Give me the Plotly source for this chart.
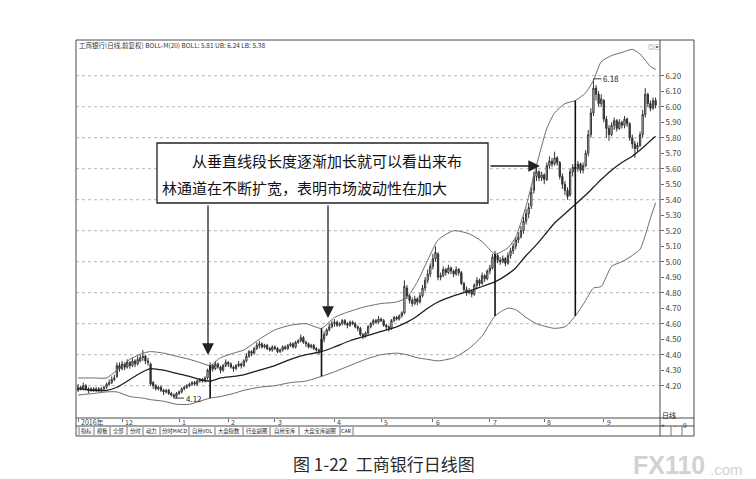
import plotly.graph_objects as go

# 工商银行 日线 (2016-11 ~ 2017-09)
month_labels = ["2016年", "12", "1", "2", "3", "4", "5", "6", "7", "8", "9"]
month_starts = [0, 17, 39, 58, 76, 99, 117, 137, 159, 180, 203]

opens = [
    4.17, 4.19, 4.18, 4.20, 4.18, 4.17, 4.18, 4.17, 4.18, 4.17,
    4.18, 4.19, 4.21, 4.22, 4.24,
    4.26, 4.33, 4.31, 4.34, 4.32, 4.35, 4.33, 4.36, 4.34, 4.36,
    4.38, 4.39, 4.36,
    4.34, 4.22, 4.20, 4.18, 4.19, 4.17, 4.16, 4.17, 4.15, 4.14, 4.13,
    4.15, 4.16, 4.18, 4.19, 4.20, 4.21, 4.22, 4.21, 4.23, 4.24, 4.23,
    4.25, 4.30, 4.33, 4.31, 4.34, 4.32, 4.30, 4.33, 4.35, 4.34, 4.32, 4.31, 4.33, 4.34,
    4.33, 4.36, 4.39, 4.42, 4.41, 4.44, 4.46,
    4.47, 4.45, 4.46, 4.44, 4.43, 4.45, 4.44, 4.42, 4.43, 4.45, 4.44, 4.46, 4.47, 4.45, 4.48, 4.49,
    4.51, 4.48, 4.47, 4.45, 4.46, 4.44, 4.43,
    4.42, 4.50, 4.53, 4.56, 4.58,
    4.60, 4.61, 4.59, 4.60, 4.62, 4.60, 4.59, 4.61, 4.60, 4.58,
    4.57, 4.53, 4.52,
    4.54, 4.58, 4.60, 4.62, 4.61, 4.63,
    4.62, 4.59, 4.58,
    4.57, 4.62, 4.64, 4.63, 4.65,
    4.67,
    4.83, 4.78, 4.75, 4.73, 4.76, 4.74,
    4.78, 4.83, 4.88, 4.92, 4.97, 5.02,
    5.05, 4.90, 4.91, 4.95, 4.93, 4.96, 4.94, 4.92, 4.95,
    4.93, 4.86, 4.82, 4.80, 4.81,
    4.79, 4.85, 4.88, 4.86, 4.91, 4.89, 4.94,
    4.96, 5.03, 5.04, 5.01, 5.00, 5.02,
    4.99, 5.04, 5.07, 5.10, 5.14, 5.16,
    5.20, 5.26, 5.31, 5.36,
    5.46, 5.55, 5.58, 5.54, 5.56,
    5.53, 5.62, 5.65, 5.63, 5.67,
    5.64, 5.55, 5.50, 5.46,
    5.43, 5.58, 5.61, 5.60, 5.63, 5.59,
    5.62, 5.70, 5.82, 5.96,
    6.12, 6.08, 6.02,
    6.04, 5.92, 5.86,
    5.82, 5.88, 5.91, 5.86, 5.90, 5.88, 5.92,
    5.89, 5.80, 5.76, 5.73,
    5.75, 5.82, 5.95,
    6.08, 6.02, 5.99, 6.04,
]
highs = [
    4.21, 4.20, 4.22, 4.21, 4.19, 4.19, 4.19, 4.19, 4.19, 4.19,
    4.20, 4.22, 4.24, 4.26, 4.27,
    4.35, 4.35, 4.36, 4.35, 4.37, 4.36, 4.38, 4.37, 4.39, 4.40,
    4.43, 4.40, 4.38,
    4.35, 4.23, 4.21, 4.20, 4.20, 4.18, 4.18, 4.18, 4.16, 4.15, 4.16,
    4.17, 4.19, 4.20, 4.21, 4.22, 4.23, 4.23, 4.24, 4.25, 4.25, 4.26,
    4.31, 4.35, 4.34, 4.36, 4.35, 4.33, 4.34, 4.37, 4.36, 4.35, 4.33, 4.34, 4.36, 4.35,
    4.37, 4.41, 4.43, 4.43, 4.45, 4.48, 4.49,
    4.48, 4.47, 4.47, 4.45, 4.46, 4.46, 4.45, 4.44, 4.46, 4.46, 4.47, 4.48, 4.48, 4.49, 4.50, 4.53,
    4.52, 4.49, 4.48, 4.47, 4.47, 4.45, 4.44,
    4.51, 4.55, 4.57, 4.60, 4.62,
    4.63, 4.62, 4.61, 4.63, 4.63, 4.61, 4.62, 4.62, 4.61, 4.59,
    4.58, 4.54, 4.55,
    4.59, 4.61, 4.63, 4.63, 4.65, 4.64,
    4.63, 4.60, 4.59,
    4.63, 4.65, 4.65, 4.66, 4.68,
    4.88,
    4.85, 4.79, 4.77, 4.78, 4.77, 4.80,
    4.85, 4.90, 4.95, 4.99, 5.05, 5.10,
    5.06, 4.93, 4.97, 4.96, 4.98, 4.97, 4.95, 4.97, 4.96,
    4.94, 4.87, 4.84, 4.83, 4.82,
    4.86, 4.90, 4.89, 4.93, 4.92, 4.95, 4.98,
    5.05, 5.07, 5.05, 5.03, 5.04, 5.03,
    5.06, 5.09, 5.12, 5.16, 5.19, 5.23,
    5.29, 5.34, 5.38, 5.48,
    5.58, 5.61, 5.59, 5.58, 5.57,
    5.64, 5.68, 5.67, 5.71, 5.68,
    5.65, 5.57, 5.52, 5.48,
    5.60, 5.63, 5.63, 5.65, 5.64, 5.64,
    5.72, 5.85, 5.99, 6.18,
    6.14, 6.10, 6.08,
    6.05, 5.94, 5.88,
    5.90, 5.93, 5.92, 5.92, 5.91, 5.94, 5.93,
    5.90, 5.82, 5.78, 5.77,
    5.84, 5.98, 6.12,
    6.09, 6.04, 6.06, 6.06,
]
lows = [
    4.16, 4.17, 4.17, 4.17, 4.15, 4.16, 4.16, 4.16, 4.16, 4.16,
    4.17, 4.18, 4.20, 4.21, 4.23,
    4.25, 4.29, 4.30, 4.30, 4.31, 4.31, 4.32, 4.32, 4.33, 4.35,
    4.36, 4.34, 4.33,
    4.20, 4.18, 4.17, 4.17, 4.16, 4.14, 4.15, 4.14, 4.13, 4.12, 4.12,
    4.14, 4.15, 4.17, 4.18, 4.19, 4.20, 4.20, 4.20, 4.22, 4.22, 4.22,
    4.24, 4.28, 4.29, 4.30, 4.31, 4.28, 4.29, 4.32, 4.32, 4.31, 4.29, 4.30, 4.32, 4.31,
    4.32, 4.35, 4.38, 4.39, 4.40, 4.43, 4.44,
    4.44, 4.44, 4.43, 4.42, 4.42, 4.43, 4.41, 4.41, 4.42, 4.43, 4.43, 4.45, 4.44, 4.44, 4.47, 4.48,
    4.47, 4.45, 4.44, 4.44, 4.43, 4.42, 4.40,
    4.41, 4.48, 4.52, 4.55, 4.57,
    4.58, 4.58, 4.58, 4.59, 4.59, 4.57, 4.58, 4.59, 4.57, 4.55,
    4.52, 4.50, 4.51,
    4.53, 4.57, 4.59, 4.60, 4.60, 4.61,
    4.58, 4.56, 4.55,
    4.56, 4.61, 4.62, 4.62, 4.64,
    4.66,
    4.76, 4.73, 4.71, 4.72, 4.72, 4.73,
    4.77, 4.81, 4.86, 4.90, 4.95, 5.00,
    4.88, 4.88, 4.90, 4.91, 4.92, 4.92, 4.90, 4.91, 4.91,
    4.85, 4.80, 4.78, 4.79, 4.77,
    4.78, 4.83, 4.84, 4.85, 4.87, 4.88, 4.92,
    4.95, 5.00, 4.99, 4.98, 4.99, 4.97,
    4.98, 5.02, 5.05, 5.08, 5.12, 5.15,
    5.18, 5.24, 5.28, 5.34,
    5.44, 5.52, 5.52, 5.52, 5.50,
    5.52, 5.60, 5.61, 5.62, 5.62,
    5.53, 5.47, 5.43, 5.40,
    5.42, 5.55, 5.57, 5.58, 5.57, 5.57,
    5.61, 5.68, 5.80, 5.94,
    6.04, 6.00, 6.00,
    5.90, 5.80, 5.78,
    5.81, 5.85, 5.84, 5.85, 5.86, 5.86, 5.87,
    5.78, 5.73, 5.67, 5.71,
    5.74, 5.80, 5.93,
    6.00, 5.97, 5.98, 5.99,
]
closes = [
    4.19, 4.18, 4.20, 4.18, 4.17, 4.18, 4.17, 4.18, 4.17, 4.18,
    4.19, 4.21, 4.22, 4.24, 4.25,
    4.33, 4.31, 4.34, 4.32, 4.35, 4.33, 4.36, 4.34, 4.37, 4.38,
    4.39, 4.36, 4.35,
    4.21, 4.20, 4.18, 4.19, 4.17, 4.16, 4.17, 4.15, 4.14, 4.13, 4.15,
    4.16, 4.18, 4.19, 4.20, 4.21, 4.22, 4.21, 4.23, 4.24, 4.23, 4.25,
    4.30, 4.33, 4.31, 4.34, 4.32, 4.30, 4.33, 4.35, 4.34, 4.32, 4.31, 4.33, 4.34, 4.33,
    4.36, 4.39, 4.42, 4.41, 4.44, 4.46, 4.47,
    4.45, 4.46, 4.44, 4.43, 4.45, 4.44, 4.42, 4.43, 4.45, 4.44, 4.46, 4.47, 4.45, 4.48, 4.49, 4.51,
    4.48, 4.47, 4.45, 4.46, 4.44, 4.43, 4.42,
    4.50, 4.53, 4.56, 4.58, 4.60,
    4.61, 4.59, 4.60, 4.62, 4.60, 4.59, 4.61, 4.60, 4.58, 4.57,
    4.53, 4.52, 4.54,
    4.58, 4.60, 4.62, 4.61, 4.63, 4.62,
    4.59, 4.58, 4.57,
    4.62, 4.64, 4.63, 4.65, 4.67,
    4.84,
    4.78, 4.75, 4.73, 4.76, 4.74, 4.78,
    4.83, 4.88, 4.92, 4.97, 5.02, 5.06,
    4.90, 4.91, 4.95, 4.93, 4.96, 4.94, 4.92, 4.95, 4.93,
    4.86, 4.82, 4.80, 4.81, 4.79,
    4.85, 4.88, 4.86, 4.91, 4.89, 4.94, 4.96,
    5.03, 5.04, 5.01, 5.00, 5.02, 4.99,
    5.04, 5.07, 5.10, 5.14, 5.16, 5.20,
    5.26, 5.31, 5.35, 5.45,
    5.55, 5.58, 5.54, 5.56, 5.53,
    5.62, 5.65, 5.63, 5.67, 5.64,
    5.55, 5.50, 5.46, 5.42,
    5.58, 5.61, 5.60, 5.63, 5.59, 5.62,
    5.70, 5.82, 5.96, 6.12,
    6.08, 6.02, 6.05,
    5.92, 5.86, 5.82,
    5.88, 5.91, 5.86, 5.90, 5.88, 5.92, 5.89,
    5.80, 5.76, 5.73, 5.75,
    5.82, 5.95, 6.08,
    6.02, 5.99, 6.04, 6.01,
]
assert len(opens) == len(highs) == len(lows) == len(closes)
days = list(range(len(closes)))

# BOLL(20) band read at selected days
band_days = [0, 6, 11, 15, 20, 25, 28, 33, 38, 43, 47, 51, 55, 60, 64, 70, 76, 82, 88, 94,
             99, 105, 111, 117, 123, 127, 131, 135, 139, 145, 151, 156, 161, 166, 169, 173,
             177, 181, 184, 188, 192, 196, 199, 202, 206, 210, 214, 217, 219, 221, 223]
boll_upper = [4.25, 4.25, 4.25, 4.30, 4.37, 4.41, 4.42, 4.41, 4.39, 4.37, 4.35, 4.33, 4.38,
              4.41, 4.43, 4.50, 4.56, 4.59, 4.60, 4.57, 4.64, 4.68, 4.71, 4.73, 4.74, 4.77,
              4.87, 5.01, 5.14, 5.20, 5.18, 5.13, 5.05, 5.09, 5.16, 5.36, 5.62, 5.86, 5.96,
              6.02, 6.04, 6.09, 6.17, 6.29, 6.33, 6.35, 6.37, 6.34, 6.30, 6.26, 6.24]
boll_mid = [4.18, 4.17, 4.17, 4.19, 4.24, 4.29, 4.31, 4.30, 4.28, 4.26, 4.24, 4.23, 4.25,
            4.26, 4.27, 4.30, 4.33, 4.37, 4.40, 4.42, 4.45, 4.49, 4.52, 4.55, 4.58, 4.61,
            4.65, 4.70, 4.74, 4.78, 4.81, 4.84, 4.87, 4.92, 4.96, 5.04, 5.11, 5.19, 5.25,
            5.31, 5.37, 5.43, 5.48, 5.53, 5.59, 5.64, 5.68, 5.72, 5.75, 5.78, 5.81]
boll_lower = [4.14, 4.15, 4.16, 4.16, 4.13, 4.12, 4.11, 4.10, 4.08, 4.08, 4.10, 4.12, 4.13,
              4.15, 4.17, 4.19, 4.20, 4.22, 4.23, 4.26, 4.29, 4.33, 4.37, 4.40, 4.41, 4.40,
              4.38, 4.37, 4.36, 4.38, 4.44, 4.52, 4.65, 4.70, 4.69, 4.64, 4.60, 4.58, 4.57,
              4.58, 4.65, 4.75, 4.83, 4.84, 4.97, 5.00, 5.04, 5.08, 5.17, 5.28, 5.38]

# days where the channel width is marked with a vertical segment
width_mark_days = [51, 94, 161, 192]

price_ticks = [4.20, 4.30, 4.40, 4.50, 4.60, 4.70, 4.80, 4.90, 5.00, 5.10, 5.20,
               5.30, 5.40, 5.50, 5.60, 5.70, 5.80, 5.90, 6.00, 6.10, 6.20]
grid_levels = [4.20, 4.40, 4.60, 4.80, 5.00, 5.20, 5.40, 5.60, 5.80, 6.00, 6.20]

tab_labels = ["指标", "模板", "全部", "分时", "动力", "分时MACD", "自用VOL",
              "大盘指数", "行业副图", "自用宝库", "大盘宝库副图", "CAR"]
tab_edges = [71, 86, 102, 119, 135, 152, 181, 207, 235, 262, 291, 332, 345]

note_line1 = "　　从垂直线段长度逐渐加长就可以看出来布"
note_line2 = "林通道在不断扩宽，表明市场波动性在加大"
caption = "图 1-22  工商银行日线图"

FONT = "Noto Sans CJK SC"
W, H = 756, 479
L, R, T, B = 68, 104, 33, 69
PW, PH = W - L - R, H - T - B


def px(x):
    return (x - L) / PW


def py(y):
    return (H - B - y) / PH


fig = go.Figure()

fig.add_trace(go.Candlestick(
    x=days, open=opens, high=highs, low=lows, close=closes,
    increasing=dict(line=dict(color="#333333", width=1), fillcolor="#ffffff"),
    decreasing=dict(line=dict(color="#333333", width=1), fillcolor="#333333"),
    whiskerwidth=0, showlegend=False, hoverinfo="skip",
))

for vals, col, w in [(boll_upper, "#6a6a6a", 1), (boll_lower, "#6a6a6a", 1), (boll_mid, "#1e1e1e", 1.3)]:
    fig.add_trace(go.Scatter(
        x=band_days, y=vals, mode="lines",
        line=dict(color=col, width=w, shape="spline", smoothing=0.6),
        showlegend=False, hoverinfo="skip",
    ))

# dotted price grid
for g in grid_levels:
    fig.add_shape(type="line", xref="paper", yref="y", x0=0, x1=1, y0=g, y1=g,
                  line=dict(color="#b5b5b5", width=1, dash="dot"), layer="below")

# vertical channel-width segments
for d in width_mark_days:
    k = band_days.index(d)
    fig.add_shape(type="line", xref="x", yref="y", x0=d, x1=d,
                  y0=boll_lower[k], y1=boll_upper[k],
                  line=dict(color="#111111", width=1.6))

# frame of the software window
frame = dict(color="#4a4a4a", width=1)
fig.add_shape(type="rect", xref="paper", yref="paper", x0=0, x1=px(686), y0=py(428), y1=py(32), line=frame)
fig.add_shape(type="line", xref="paper", yref="paper", x0=1, x1=1, y0=py(428), y1=py(32), line=frame)
fig.add_shape(type="line", xref="paper", yref="paper", x0=0, x1=px(686), y0=0, y1=0, line=frame)
fig.add_shape(type="line", xref="paper", yref="paper", x0=0, x1=px(686), y0=py(418), y1=py(418), line=frame)
for e in tab_edges:
    fig.add_shape(type="line", xref="paper", yref="paper", x0=px(e), x1=px(e), y0=py(427), y1=py(419),
                  line=dict(color="#777777", width=1))
for e in [663, 674]:
    fig.add_shape(type="line", xref="paper", yref="paper", x0=px(e), x1=px(e), y0=py(428), y1=py(418),
                  line=dict(color="#777777", width=1))

# callout box
fig.add_shape(type="rect", xref="paper", yref="paper", x0=px(149), x1=px(480), y0=py(195), y1=py(135),
              line=dict(color="#222222", width=1.3), fillcolor="white")

ann = []
ann.append(dict(x=px(69), y=py(37), xref="paper", yref="paper", xanchor="left", yanchor="middle",
                text=f"工商银行(日线,前复权) BOLL-M(20) BOLL: {boll_mid[-1]:.2f} UB: {boll_upper[-1]:.2f} LB: {boll_lower[-1]:.2f}",
                showarrow=False, font=dict(size=6.5, color="#333333", family=FONT)))
ann.append(dict(x=px(646), y=py(38), xref="paper", yref="paper", xanchor="center", yanchor="middle",
                text="◎▣", showarrow=False, font=dict(size=6, color="#666666", family=FONT)))
ann.append(dict(x=px(152), y=py(152), xref="paper", yref="paper", xanchor="left", yanchor="middle",
                text=note_line1, showarrow=False, font=dict(size=15, color="#111111", family=FONT)))
ann.append(dict(x=px(152), y=py(179), xref="paper", yref="paper", xanchor="left", yanchor="middle",
                text=note_line2, showarrow=False, font=dict(size=15, color="#111111", family=FONT)))

arrow = dict(showarrow=True, arrowhead=2, arrowsize=1.8, arrowwidth=1.3, arrowcolor="#222222", text="",
             xref="paper", yref="paper")
ann.append(dict(arrow, x=px(200), y=py(347), ax=0, ay=-(347 - 196)))
ann.append(dict(arrow, x=px(320), y=py(310), ax=0, ay=-(310 - 196)))
ann.append(dict(arrow, x=px(532), y=py(158), ax=-(532 - 481), ay=0))

# extreme price markers
i_lo = lows.index(min(lows))
i_hi = highs.index(max(highs))
ann.append(dict(x=i_lo, y=lows[i_lo], xref="x", yref="y", text=f"{lows[i_lo]:.2f}", showarrow=True,
                arrowhead=0, arrowwidth=1, arrowcolor="#333333", ax=10, ay=0, xanchor="left",
                font=dict(size=8, color="#222222", family=FONT)))
ann.append(dict(x=i_hi, y=highs[i_hi], xref="x", yref="y", text=f"{highs[i_hi]:.2f}", showarrow=True,
                arrowhead=0, arrowwidth=1, arrowcolor="#333333", ax=8, ay=0, xanchor="left",
                font=dict(size=8, color="#222222", family=FONT)))

# month labels on the date strip
for lab, d in zip(month_labels, month_starts):
    ann.append(dict(x=d, y=py(414), xref="x", yref="paper", xanchor="left", yanchor="middle", xshift=1,
                    text=lab, showarrow=False, font=dict(size=7, color="#444444", family=FONT)))

# tab bar
for lab, a, b in zip(tab_labels, tab_edges[:-1], tab_edges[1:]):
    ann.append(dict(x=px((a + b) / 2), y=py(423), xref="paper", yref="paper", xanchor="center",
                    yanchor="middle", text=lab, showarrow=False, borderpad=0,
                    font=dict(size=5.3, color="#222222", family=FONT)))
ann.append(dict(x=px(669), y=py(413.5), xref="paper", yref="paper", text="日线", showarrow=False,
                borderpad=0, font=dict(size=7, color="#222222", family=FONT)))
for lab, xx in [("+", 658), ("-", 669), ("0", 680)]:
    ann.append(dict(x=px(xx), y=py(423), xref="paper", yref="paper", text=lab, showarrow=False,
                    borderpad=0, font=dict(size=6.5, color="#222222", family=FONT)))

# caption and watermark
ann.append(dict(x=px(376), y=py(455), xref="paper", yref="paper", xanchor="center", yanchor="middle",
                text=caption, showarrow=False, font=dict(size=17, color="#2a2a2a", family=FONT)))
ann.append(dict(x=px(624), y=py(457), xref="paper", yref="paper", xanchor="left", yanchor="middle",
                text="<b>FX110</b>", showarrow=False, borderpad=0,
                font=dict(size=25, color="#d2d2d2", family="Liberation Sans")))
ann.append(dict(x=px(701), y=py(461), xref="paper", yref="paper", xanchor="left", yanchor="middle",
                text=".com", showarrow=False, borderpad=0,
                font=dict(size=15, color="#d2d2d2", family="Liberation Sans")))

fig.update_layout(
    width=W, height=H,
    margin=dict(l=L, r=R, t=T, b=B),
    paper_bgcolor="white", plot_bgcolor="white",
    font=dict(family=FONT, size=8, color="#333333"),
    annotations=ann,
    xaxis=dict(range=[-0.8, 224.7], rangeslider=dict(visible=False), showgrid=False, zeroline=False,
               tickvals=month_starts, ticks="outside", ticklen=3, tickcolor="#666666",
               showticklabels=False, showline=False),
    yaxis=dict(range=[3.9916, 6.424], side="right", showgrid=False, zeroline=False,
               tickvals=price_ticks, ticktext=[f"{v:.2f}" for v in price_ticks],
               ticks="outside", ticklen=3, tickcolor="#666666",
               tickfont=dict(size=8, color="#444444", family=FONT), showline=False),
)

fig.write_html("out.html")
